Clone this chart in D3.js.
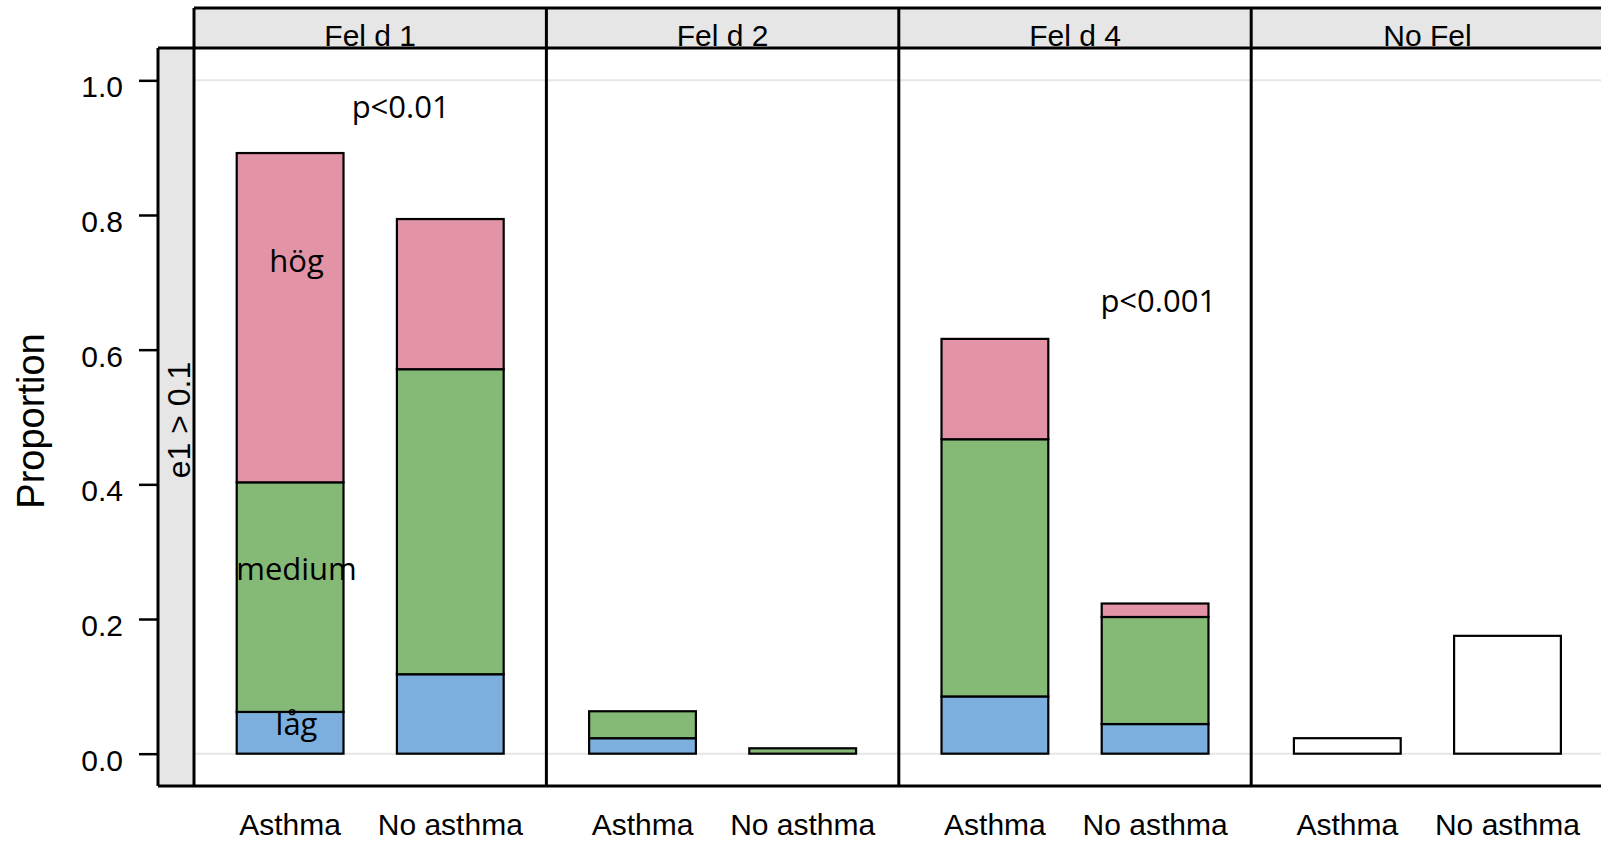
<!DOCTYPE html>
<html>
<head>
<meta charset="utf-8">
<script src="https://cdn.jsdelivr.net/npm/d3@7"></script>
<style>
  body { margin: 0; background: #fff; }
  svg { display: block; }
</style>
</head>
<body>
<svg id="visualization" width="1601" height="841"></svg>
<script>
// panels (strips) and groups on the x axis
var panels = ["Fel d 1", "Fel d 2", "Fel d 4", "No Fel"];
var groups = ["Asthma", "No asthma"];
var levels = ["låg", "medium", "hög"];

// proportions per panel, [Asthma, No asthma]
var lag    = [[0.062, 0.118], [0.023, 0.000], [0.085, 0.044], [0, 0]];
var medium = [[0.341, 0.453], [0.040, 0.008], [0.382, 0.159], [0, 0]];
var hog    = [[0.489, 0.223], [0.000, 0.000], [0.149, 0.020], [0, 0]];
var noLevel = [[0, 0], [0, 0], [0, 0], [0.023, 0.175]];

var yTicks = [0, 0.2, 0.4, 0.6, 0.8, 1.0];
var refLines = [0, 1];

// text inside the panels, x in group units (1 = Asthma, 2 = No asthma)
var pTexts = [
  { panel: "Fel d 1", text: "p<0.01", x: 1.69, y: 0.944 },
  { panel: "Fel d 4", text: "p<0.001", x: 2.02, y: 0.656 }
];
var levelTexts = [
  { panel: "Fel d 1", text: "hög", x: 1.04, y: 0.715 },
  { panel: "Fel d 1", text: "medium", x: 1.04, y: 0.258 },
  { panel: "Fel d 1", text: "låg", x: 1.04, y: 0.027 }
];

var colors = { "låg": "#7cafdd", "medium": "#85b976", "hög": "#e293a6", "blank": "#ffffff" };

var vis = d3.select("#visualization"),
  STRIP_TOP = 8,
  TOP = 48,
  BOTTOM = 786,
  LEFT = 194,
  SIDE_LEFT = 158,
  PANEL_W = 352.4,
  xPanel = d3.scaleBand()
    .domain(panels)
    .range([LEFT, LEFT + PANEL_W * panels.length]),
  xGroup = d3.scalePoint()
    .domain(groups)
    .range([0, PANEL_W])
    .padding(0.6),
  xUnit = d3.scaleLinear().domain([0.4, 2.6]).range([0, PANEL_W]),
  barW = xGroup.step() * 2 / 3,
  yScale = d3.scaleLinear()
    .domain([-0.048, 1.048])
    .range([BOTTOM, TOP]);

var rows = [];
panels.forEach(function(p, i) {
  groups.forEach(function(g, j) {
    rows.push({ panel: p, group: g, "låg": lag[i][j], "medium": medium[i][j], "hög": hog[i][j], "blank": noLevel[i][j] });
  });
});
var stacked = d3.stack().keys(["låg", "medium", "hög", "blank"])(rows);

// strips on top
vis.selectAll(".strip")
  .data(panels)
  .enter().append("rect")
    .attr("x", function(d) { return xPanel(d); })
    .attr("y", STRIP_TOP)
    .attr("width", PANEL_W)
    .attr("height", TOP - STRIP_TOP)
    .style("fill", "#e6e6e6");

vis.selectAll(".stripText")
  .data(panels)
  .enter().append("text")
    .attr("x", function(d) { return xPanel(d) + PANEL_W / 2; })
    .attr("y", 46)
    .style("text-anchor", "middle")
    .style("font-family", "Liberation Sans, Arial, sans-serif")
    .style("font-size", "30px")
    .text(function(d) { return d; });

// left strip
vis.append("rect")
  .attr("x", SIDE_LEFT)
  .attr("y", TOP)
  .attr("width", LEFT - SIDE_LEFT)
  .attr("height", BOTTOM - TOP)
  .style("fill", "#e6e6e6");

vis.append("text")
  .attr("transform", "translate(190,420) rotate(-90)")
  .style("text-anchor", "middle")
  .style("font-family", "Liberation Sans, Arial, sans-serif")
  .style("font-size", "32px")
  .text("e1 > 0.1");

// panels
var panel = vis.selectAll(".panel")
  .data(panels)
  .enter().append("g")
    .attr("transform", function(d) { return "translate(" + xPanel(d) + ",0)"; });

panel.selectAll(".ref")
  .data(refLines)
  .enter().append("line")
    .attr("x1", 0)
    .attr("x2", PANEL_W)
    .attr("y1", function(d) { return yScale(d); })
    .attr("y2", function(d) { return yScale(d); })
    .style("stroke", "#e6e6e6")
    .style("stroke-width", 2);

// stacked bars
stacked.forEach(function(layer) {
  vis.selectAll(".seg-" + layer.key)
    .data(layer.filter(function(d) { return d[1] - d[0] > 0; }))
    .enter().append("rect")
      .attr("x", function(d) { return xPanel(d.data.panel) + xGroup(d.data.group) - barW / 2; })
      .attr("y", function(d) { return yScale(d[1]); })
      .attr("width", barW)
      .attr("height", function(d) { return yScale(d[0]) - yScale(d[1]); })
      .style("fill", colors[layer.key])
      .style("stroke", "#000")
      .style("stroke-width", 2.2);
});

// annotations
vis.selectAll(".ptext")
  .data(pTexts.concat(levelTexts))
  .enter().append("text")
    .attr("x", function(d) { return xPanel(d.panel) + xUnit(d.x); })
    .attr("y", function(d) { return yScale(d.y); })
    .style("text-anchor", "middle")
    .style("font-family", "Open Sans, sans-serif")
    .style("font-size", "31px")
    .text(function(d) { return d.text; });

// borders
var bc = "#000", bw = 3;
vis.append("line")
  .attr("x1", LEFT).attr("x2", 1601).attr("y1", STRIP_TOP).attr("y2", STRIP_TOP)
  .style("stroke", bc).style("stroke-width", bw);
vis.append("line")
  .attr("x1", SIDE_LEFT).attr("x2", 1601).attr("y1", TOP).attr("y2", TOP)
  .style("stroke", bc).style("stroke-width", bw);
vis.append("line")
  .attr("x1", SIDE_LEFT).attr("x2", 1601).attr("y1", BOTTOM).attr("y2", BOTTOM)
  .style("stroke", bc).style("stroke-width", bw);
vis.append("line")
  .attr("x1", SIDE_LEFT).attr("x2", SIDE_LEFT).attr("y1", TOP).attr("y2", BOTTOM)
  .style("stroke", bc).style("stroke-width", bw);
vis.selectAll(".vsep")
  .data(panels)
  .enter().append("line")
    .attr("x1", function(d) { return xPanel(d); })
    .attr("x2", function(d) { return xPanel(d); })
    .attr("y1", STRIP_TOP)
    .attr("y2", BOTTOM)
    .style("stroke", bc)
    .style("stroke-width", bw);

// y axis
var yAxis = d3.axisLeft(yScale)
  .tickValues(yTicks)
  .tickFormat(d3.format(".1f"))
  .tickSize(19)
  .tickPadding(16);

var yG = vis.append("g")
  .attr("transform", "translate(" + SIDE_LEFT + ",0)")
  .call(yAxis);
yG.select(".domain").remove();
yG.selectAll(".tick line").style("stroke", "#000").style("stroke-width", 2.5);
yG.selectAll(".tick text")
  .attr("dy", "0.55em")
  .style("font-family", "Liberation Sans, Arial, sans-serif")
  .style("font-size", "30px")
  .style("fill", "#000");

// x labels under each panel
panel.selectAll(".xlab")
  .data(groups)
  .enter().append("text")
    .attr("x", function(d) { return xGroup(d); })
    .attr("y", 835)
    .style("text-anchor", "middle")
    .style("font-family", "Liberation Sans, Arial, sans-serif")
    .style("font-size", "30px")
    .text(function(d) { return d; });

vis.append("text")
  .attr("transform", "translate(44,421) rotate(-90)")
  .style("text-anchor", "middle")
  .style("font-family", "Liberation Sans, Arial, sans-serif")
  .style("font-size", "38px")
  .text("Proportion");
</script>
</body>
</html>
